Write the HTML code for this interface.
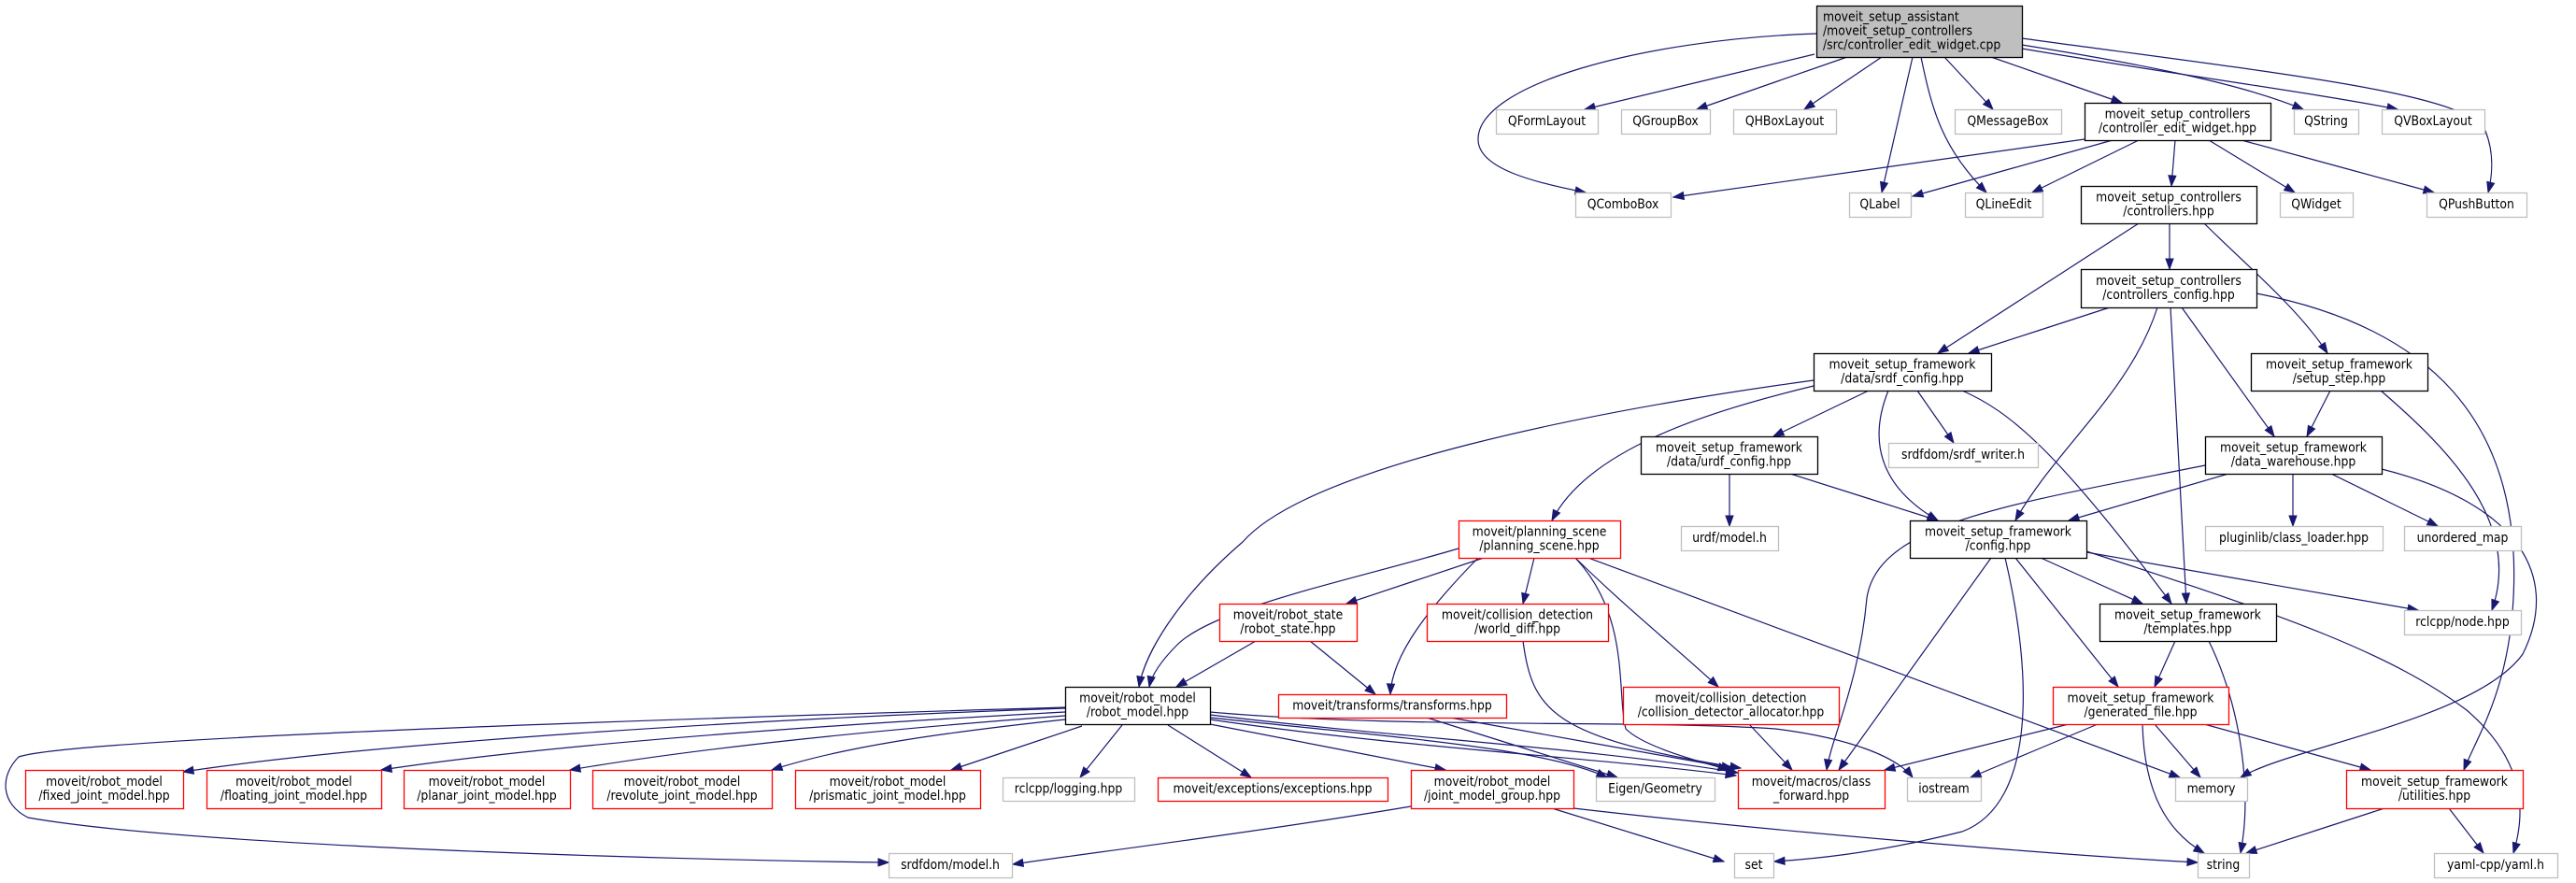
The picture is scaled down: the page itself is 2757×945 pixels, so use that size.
<!DOCTYPE html>
<html><head><meta charset="utf-8">
<style>
html,body{margin:0;padding:0;background:#fff;}
svg{display:block;}
text{font-family:"DejaVu Sans Condensed","DejaVu Sans","Liberation Sans",sans-serif;font-size:12px;fill:#000;}
</style></head>
<body>
<svg id="g" xmlns="http://www.w3.org/2000/svg" width="2757" height="945" viewBox="0 0 2757 945"></svg>
<script>
var N={
M:[1944,2164,6,61,'m',['moveit_setup_assistant','/moveit_setup_controllers','/src/controller_edit_widget.cpp']],
QFL:[1601,1710,117,143,'g',['QFormLayout']],
QGB:[1735,1830,117,143,'g',['QGroupBox']],
QHB:[1855,1965,117,143,'g',['QHBoxLayout']],
QMB:[2092,2206,117,143,'g',['QMessageBox']],
CEW:[2231,2430,110,150,'b',['moveit_setup_controllers','/controller_edit_widget.hpp']],
QS:[2455,2524,117,143,'g',['QString']],
QVB:[2549,2659,117,143,'g',['QVBoxLayout']],
QCB:[1686,1788,206,232,'g',['QComboBox']],
QL:[1979,2045,206,232,'g',['QLabel']],
QLE:[2103,2186,206,232,'g',['QLineEdit']],
CTR:[2227,2415,199,239,'b',['moveit_setup_controllers','/controllers.hpp']],
QW:[2440,2518,206,232,'g',['QWidget']],
QPB:[2597,2704,206,232,'g',['QPushButton']],
CC:[2227,2415,288,329,'b',['moveit_setup_controllers','/controllers_config.hpp']],
SRDF:[1941,2131,378,418,'b',['moveit_setup_framework','/data/srdf_config.hpp']],
SS:[2409,2598,378,418,'b',['moveit_setup_framework','/setup_step.hpp']],
URDF:[1756,1945,467,507,'b',['moveit_setup_framework','/data/urdf_config.hpp']],
SW:[2021,2181,474,500,'g',['srdfdom/srdf_writer.h']],
DW:[2360,2549,467,507,'b',['moveit_setup_framework','/data_warehouse.hpp']],
PS:[1561,1734,557,597,'r',['moveit/planning_scene','/planning_scene.hpp']],
UM:[1799,1903,563,589,'g',['urdf/model.h']],
CFG:[2044,2233,557,597,'b',['moveit_setup_framework','/config.hpp']],
PL:[2360,2550,563,589,'g',['pluginlib/class_loader.hpp']],
UO:[2573,2698,563,589,'g',['unordered_map']],
RS:[1305,1452,646,686,'r',['moveit/robot_state','/robot_state.hpp']],
WD:[1527,1721,646,686,'r',['moveit/collision_detection','/world_diff.hpp']],
TPL:[2247,2436,646,686,'b',['moveit_setup_framework','/templates.hpp']],
NODE:[2573,2698,653,679,'g',['rclcpp/node.hpp']],
TR:[1368,1612,743,768,'r',['moveit/transforms/transforms.hpp']],
CDA:[1737,1968,735,775,'r',['moveit/collision_detection','/collision_detector_allocator.hpp']],
GF:[2197,2385,735,775,'r',['moveit_setup_framework','/generated_file.hpp']],
RM:[1140,1295,735,775,'b',['moveit/robot_model','/robot_model.hpp']],
FJ:[27,196,824,865,'r',['moveit/robot_model','/fixed_joint_model.hpp']],
FL:[221,408,824,865,'r',['moveit/robot_model','/floating_joint_model.hpp']],
PJ:[432,610,824,865,'r',['moveit/robot_model','/planar_joint_model.hpp']],
RJ:[634,826,824,865,'r',['moveit/robot_model','/revolute_joint_model.hpp']],
PR:[851,1049,824,865,'r',['moveit/robot_model','/prismatic_joint_model.hpp']],
LOG:[1073,1214,832,857,'g',['rclcpp/logging.hpp']],
EX:[1239,1485,832,857,'r',['moveit/exceptions/exceptions.hpp']],
JMG:[1510,1684,824,865,'r',['moveit/robot_model','/joint_model_group.hpp']],
EG:[1708,1835,832,857,'g',['Eigen/Geometry']],
CF:[1860,2017,824,865,'r',['moveit/macros/class','_forward.hpp']],
IO:[2041,2120,832,857,'g',['iostream']],
MEM:[2328,2405,832,857,'g',['memory']],
UT:[2511,2700,824,865,'r',['moveit_setup_framework','/utilities.hpp']],
SM:[951,1083,913,939,'g',['srdfdom/model.h']],
SET:[1856,1898,913,939,'g',['set']],
STR:[2352,2407,913,939,'g',['string']],
YAML:[2605,2737,913,939,'g',['yaml-cpp/yaml.h']]
};
function L(a,b,c,d){return 'M'+a+','+b+' C'+(a+(c-a)/3)+','+(b+(d-b)/3)+' '+(a+2*(c-a)/3)+','+(b+2*(d-b)/3)+' '+c+','+d;}
var E=[
L(1942,58,1696,117),L(1977,61,1816,117),L(2014,61,1931,117),L(2047,61,2014,206),
'M2056,61 C2068,120 2080,160 2126,206',L(2081,61,2133,117),L(2131,61,2271,110),
'M2164,48 C2300,70 2400,90 2465,117','M2164,52 C2330,80 2480,100 2566,117',
'M1944,36 C1760,42 1580,90 1582,150 C1583,180 1640,195 1697,206',
'M2164,41 C2450,80 2640,100 2660,140 C2670,165 2667,190 2663,206',
L(2231,149,1791,211),L(2261,150,2047,210),L(2289,150,2175,206),L(2328,150,2324,199),L(2364,150,2456,206),L(2399,150,2605,206),
L(2289,239,2074,378),L(2322,239,2322,288),'M2359,239 C2400,280 2460,330 2491,378',
L(2258,329,2107,378),'M2309,329 C2280,420 2200,480 2157,557',L(2323,329,2340,646),L(2335,329,2434,467),
'M2415,314 C2600,350 2700,450 2690,640 C2685,740 2650,790 2637,824',
L(2494,418,2469,467),'M2548,418 C2620,480 2700,560 2667,653',
L(2000,418,1898,467),L(2052,418,2091,474),'M2021,418 C2000,470 2010,520 2074,557',
'M2100,418 C2150,440 2200,480 2324,646','M1941,413 C1830,440 1700,480 1661,557',
'M1941,407 C1700,440 1400,500 1330,580 C1260,640 1225,700 1219,735',
L(1851,507,1851,563),L(1916,507,2074,557),
L(2385,507,2214,557),'M2360,498 C2150,540 2010,560 1998,640 C1990,730 1960,790 1955,824',
L(2454,507,2454,563),L(2495,507,2609,563),
'M2549,502 C2700,540 2740,620 2700,700 C2650,770 2450,800 2398,832',
L(2184,597,2293,646),L(2233,591,2588,653),
'M2233,590 C2450,660 2560,700 2640,760 C2710,820 2700,880 2690,913',
L(2157,597,2267,735),L(2131,597,1968,824),
'M2146,597 C2175,720 2180,860 2100,890 C2000,915 1930,920 1899,922',
L(2328,686,2306,735),'M2364,686 C2400,760 2410,850 2398,913',
L(2214,775,2017,824),L(2245,775,2109,832),L(2306,775,2355,832),
'M2293,775 C2295,850 2320,890 2359,913',L(2359,775,2537,824),
L(2552,865,2404,913),L(2621,865,2658,913),
L(1588,597,1441,646),L(1642,597,1630,646),'M1582,597 C1530,650 1490,700 1488,743',
'M1686,597 C1740,650 1790,690 1839,735',
'M1686,597 C1745,660 1730,740 1740,780 C1760,800 1820,815 1850,824',
L(1700,597,2333,832),'M1561,587 C1450,620 1300,650 1260,690 C1240,710 1232,725 1230,735',
L(1344,686,1259,735),L(1402,686,1472,743),
'M1630,686 C1640,760 1660,790 1863,822',L(1872,775,1918,824),
L(1527,768,1731,832),L(1552,768,1854,822),
'M1140,758 C800,770 400,795 196,826','M1140,762 C900,775 600,795 408,824','M1140,766 C950,780 750,800 610,824',
'M1140,770 C1000,785 900,800 826,824',L(1158,777,1018,824),L(1201,776,1156,832),L(1250,776,1339,832),
L(1295,775,1547,824),'M1295,768 C1500,790 1650,800 1720,832','M1295,765 C1500,790 1700,800 1860,827',
'M1295,770 C1500,800 1700,810 1858,830',
'M1295,762 C1500,780 1750,770 1900,780 C1980,790 2030,810 2047,832',
'M1140,757 C700,770 80,790 20,810 C0,830 0,860 30,875 C200,905 700,920 951,923',
'M1510,863 C1350,890 1150,915 1084,925',L(1661,865,1845,922),'M1684,865 C1900,890 2200,915 2352,923'
];
var NS='http://www.w3.org/2000/svg',g=document.getElementById('g');
function el(t,a){var e=document.createElementNS(NS,t);for(var k in a)e.setAttribute(k,a[k]);g.appendChild(e);return e;}
E.forEach(function(d){
  el('path',{d:d,fill:'none',stroke:'#191970','stroke-width':1.2});
  var n=d.replace(/[MCL]/g,' ').trim().split(/[\s,]+/).map(Number);
  var x=n[n.length-2],y=n[n.length-1],px=n[n.length-4],py=n[n.length-3];
  var dx=x-px,dy=y-py,l=Math.sqrt(dx*dx+dy*dy)||1;dx/=l;dy/=l;
  var bx=x-dx*11,by=y-dy*11,w=4;
  el('polygon',{points:x+','+y+' '+(bx-dy*w)+','+(by+dx*w)+' '+(bx+dy*w)+','+(by-dx*w),fill:'#191970',stroke:'#191970'});
});
var col={m:'#000',b:'#000',r:'#ff0000',g:'#bfbfbf'};
for(var k in N){var v=N[k],x1=v[0],x2=v[1],y1=v[2],y2=v[3],t=v[4],ls=v[5];
  el('rect',{x:x1+0.5,y:y1+0.5,width:x2-x1,height:y2-y1,fill:t=='m'?'#bfbfbf':'#fff',stroke:col[t],'stroke-width':t=='g'?1.3:1.3});
  var cy=(y1+y2)/2,ts=[],mx=0;
  ls.forEach(function(s,i){var bl=cy+(i-(ls.length-1)/2)*15+4;
    var te=el('text',t=='m'?{x:x1+7,y:bl}:{x:(x1+x2)/2,y:bl,'text-anchor':'middle'});
    te.textContent=s;ts.push(te);mx=Math.max(mx,te.getComputedTextLength());});
  var sc=(x2-x1-14)/(mx||1);if(sc>1.15)sc=1.15;
  ts.forEach(function(te){te.style.fontSize=(12*sc).toFixed(2)+'px';});
}
</script>
</body></html>
